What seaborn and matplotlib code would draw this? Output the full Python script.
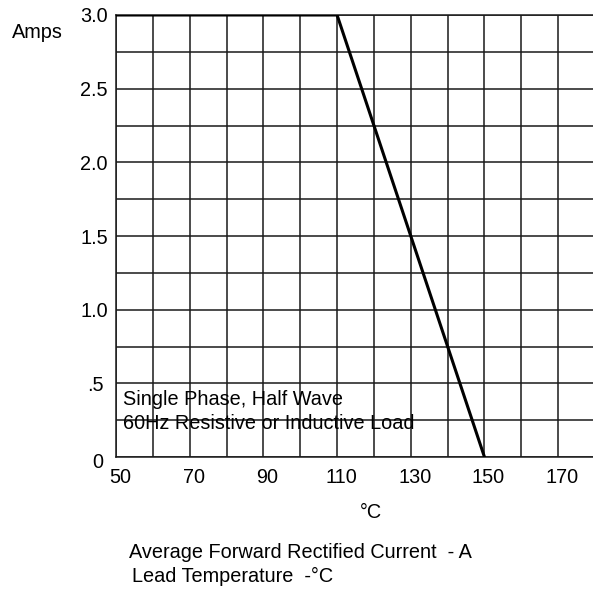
import matplotlib
matplotlib.use("Agg")
import matplotlib.pyplot as plt
import matplotlib.transforms as mtransforms
import seaborn as sns
import pandas as pd
import numpy as np

# Data
temps = [50, 110, 150]
amps = [3.0, 3.0, 0.0]
x_major = [50, 70, 90, 110, 130, 150, 170]
x_labels = ["50", "70", "90", "110", "130", "150", "170"]
y_major = [0, 0.5, 1.0, 1.5, 2.0, 2.5, 3.0]
y_labels = ["0", ".5", "1.0", "1.5", "2.0", "2.5", "3.0"]

sns.set_style("white")
plt.rcParams['font.family'] = ['Liberation Sans', 'DejaVu Sans']
FS = 14.3

W, H = 593, 589
fig = plt.figure(figsize=(W / 100, H / 100), dpi=100)
left, right, top, bottom = 116, 595, 15, 457
ax = fig.add_axes([left / W, 1 - bottom / H, (right - left) / W, (bottom - top) / H])

df = pd.DataFrame({"temp": temps, "amps": amps})
sns.lineplot(data=df, x="temp", y="amps", ax=ax, color="black", linewidth=2.2, zorder=5)

ax.set_xlim(50, 180)
ax.set_ylim(0, 3.0)
ax.set_xticks(np.arange(50, 181, 10), minor=True)
ax.set_yticks(np.arange(0, 3.01, 0.25), minor=True)
ax.set_xticks(x_major)
ax.set_xticklabels(x_labels)
ax.set_yticks(y_major)
ax.set_yticklabels(y_labels)
ax.grid(True, which="both", color="#1a1a1a", linewidth=1.1)
ax.tick_params(axis="both", which="both", length=0, labelsize=FS, colors="black")
ax.tick_params(axis="y", pad=6)
ax.tick_params(axis="x", pad=8)
ax.set_xlabel("")
ax.set_ylabel("")
for s in ["left", "bottom", "top"]:
    ax.spines[s].set_visible(True)
    ax.spines[s].set_color("#1a1a1a")
    ax.spines[s].set_linewidth(1.1)
ax.spines["right"].set_visible(False)

shift = mtransforms.ScaledTranslation(4 / 100, 0, fig.dpi_scale_trans)
for lab in ax.get_xticklabels():
    lab.set_transform(lab.get_transform() + shift)

ylabs = ax.get_yticklabels()
ylabs[0].set_transform(ylabs[0].get_transform() + mtransforms.ScaledTranslation(-4 / 100, -3 / 100, fig.dpi_scale_trans))
ylabs[1].set_transform(ylabs[1].get_transform() + mtransforms.ScaledTranslation(-4 / 100, 0, fig.dpi_scale_trans))

ax.text(51.9, 0.387, "Single Phase, Half Wave", fontsize=FS, va="center", ha="left", zorder=6, color="black")
ax.text(51.9, 0.23, "60Hz Resistive or Inductive Load", fontsize=FS, va="center", ha="left", zorder=6, color="black")

fig.text(12 / W, 1 - 33 / H, "Amps", fontsize=FS, ha="left", va="center", color="black")
fig.text(371 / W, 1 - 512 / H, "°C", fontsize=FS, ha="center", va="center", color="black")
fig.text(129 / W, 1 - 553 / H, "Average Forward Rectified Current  - A", fontsize=FS, ha="left", va="center", color="black")
fig.text(132 / W, 1 - 576 / H, "Lead Temperature  -°C", fontsize=FS, ha="left", va="center", color="black")

fig.savefig("out.png", dpi=100)
